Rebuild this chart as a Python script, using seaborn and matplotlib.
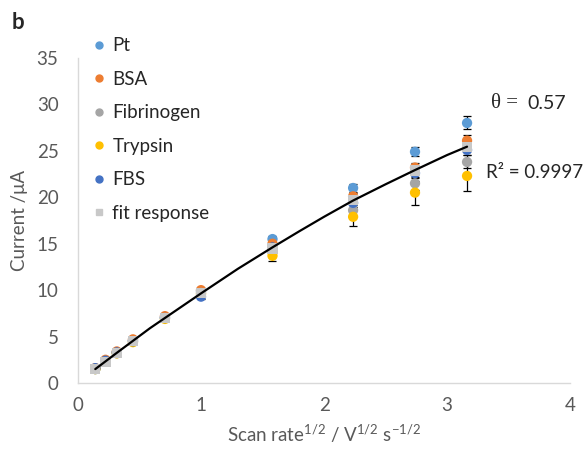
import numpy as np
import pandas as pd
import matplotlib
matplotlib.use("Agg")
import matplotlib.pyplot as plt
import seaborn as sns
from matplotlib.lines import Line2D

# Square root of scan rate (V^1/2 s^-1/2)
scan_sqrt = [0.141, 0.224, 0.316, 0.447, 0.707, 1.0, 1.581, 2.236, 2.739, 3.162]

# Peak current (uA) for each electrode condition
pt_vals = [1.5, 2.4, 3.3, 4.6, 7.1, 9.9, 15.5, 21.0, 24.9, 28.0]
bsa_vals = [1.6, 2.5, 3.4, 4.7, 7.2, 10.0, 15.0, 20.1, 23.2, 26.1]
fib_vals = [1.5, 2.3, 3.2, 4.5, 7.0, 9.7, 14.3, 18.6, 21.5, 23.8]
tryp_vals = [1.5, 2.3, 3.2, 4.4, 6.9, 9.6, 13.7, 17.9, 20.5, 22.3]
fbs_vals = [1.6, 2.4, 3.3, 4.5, 7.0, 9.3, 14.6, 19.4, 22.6, 25.1]
fit_vals = [1.5, 2.3, 3.2, 4.5, 7.0, 9.7, 14.5, 19.7, 22.9, 25.4]

# Standard deviations (uA)
pt_err = [0.1, 0.1, 0.1, 0.1, 0.15, 0.2, 0.3, 0.4, 0.5, 0.7]
bsa_err = [0.1, 0.1, 0.1, 0.1, 0.15, 0.2, 0.3, 0.4, 0.5, 0.6]
fib_err = [0.1, 0.1, 0.1, 0.1, 0.15, 0.2, 0.4, 0.6, 0.7, 0.7]
tryp_err = [0.1, 0.1, 0.1, 0.1, 0.2, 0.3, 0.6, 1.0, 1.3, 1.6]
fbs_err = [0.1, 0.1, 0.1, 0.1, 0.15, 0.2, 0.3, 0.4, 0.5, 0.6]

# Fitted response curve (power-law model, theta = 0.57)
curve_x = [0.141, 0.316, 0.585, 1.0, 1.3, 1.58, 1.8, 2.0, 2.236, 2.5, 2.734, 3.0, 3.162]
curve_y = [1.5, 3.25, 5.9, 9.65, 12.3, 14.6, 16.35, 17.9, 19.65, 21.4, 22.9, 24.55, 25.45]

series_names = ["Pt", "BSA", "Fibrinogen", "Trypsin", "FBS"]
series_vals = [pt_vals, bsa_vals, fib_vals, tryp_vals, fbs_vals]
series_errs = [pt_err, bsa_err, fib_err, tryp_err, fbs_err]
colors = ["#5B9BD5", "#ED7D31", "#A5A5A5", "#FFC000", "#4472C4"]
fit_color = "#C8C8C8"

sns.set_theme(style="white")
plt.rcParams["font.family"] = ["Lato", "DejaVu Sans"]
plt.rcParams["mathtext.fontset"] = "custom"
plt.rcParams["mathtext.rm"] = "Lato"

rows = []
for name, vals, errs in zip(series_names, series_vals, series_errs):
    for x, y, e in zip(scan_sqrt, vals, errs):
        rows.append({"x": x, "current": y, "err": e, "series": name})
df = pd.DataFrame(rows)
fit_df = pd.DataFrame({"x": scan_sqrt, "current": fit_vals})
curve_df = pd.DataFrame({"x": curve_x, "current": curve_y})

fig = plt.figure(figsize=(5.86, 4.53), dpi=100)
ax = fig.add_axes([0.133, 0.1545, 0.84, 0.7175])

# error bars first, markers on top
for name in series_names:
    sub = df[df.series == name]
    ax.errorbar(sub.x, sub.current, yerr=sub.err, fmt="none", ecolor="black",
                elinewidth=0.9, capsize=3, capthick=0.9, zorder=2)

sns.scatterplot(data=df, x="x", y="current", hue="series", hue_order=series_names,
                palette=colors, s=55, edgecolor="none", legend=False, ax=ax, zorder=3)
sns.scatterplot(data=fit_df, x="x", y="current", marker="s", color=fit_color,
                s=55, edgecolor="none", legend=False, ax=ax, zorder=4)
sns.lineplot(data=curve_df, x="x", y="current", color="black", lw=1.6,
             ax=ax, zorder=5)

ax.set_xlim(0, 4)
ax.set_ylim(0, 35)
ax.set_xticks([0, 1, 2, 3, 4])
ax.set_yticks(np.arange(0, 36, 5))
tick_col = "#595959"
ax.tick_params(axis="both", labelsize=13.5, colors=tick_col, length=0)
ax.tick_params(axis="y", pad=14)
ax.tick_params(axis="x", pad=10)
for s in ["top", "right"]:
    ax.spines[s].set_visible(False)
for s in ["left", "bottom"]:
    ax.spines[s].set_color("#D9D9D9")
    ax.spines[s].set_linewidth(1.0)

ax.set_xlabel(r"Scan rate$^{\mathrm{1/2}}$ / V$^{\mathrm{1/2}}$ s$^{\mathrm{-1/2}}$",
              fontsize=13.5, color=tick_col, labelpad=6)
ax.set_ylabel("Current /μA", fontsize=13.5, color=tick_col, labelpad=6)

handles = [Line2D([], [], ls="none", marker="o", color=c, markersize=5)
           for c in colors]
handles.append(Line2D([], [], ls="none", marker="s", color=fit_color, markersize=5))
ax.legend(handles, series_names + ["fit response"], loc="upper left",
          bbox_to_anchor=(-0.01, 1.115), frameon=False, fontsize=13.5,
          handletextpad=0.2, labelspacing=0.88, handlelength=1.0)

fig.text(0.03, 0.95, "b", fontsize=16, fontweight="bold", ha="center", va="center")
fig.text(0.838, 0.772, "θ =", fontsize=15, family=["Liberation Serif"],
         ha="left", va="center")
fig.text(0.900, 0.772, "0.57", fontsize=14, ha="left", va="center")
fig.text(0.83, 0.62, "R² = 0.9997", fontsize=13.5, ha="left", va="center")

fig.savefig("out.png", dpi=100)
